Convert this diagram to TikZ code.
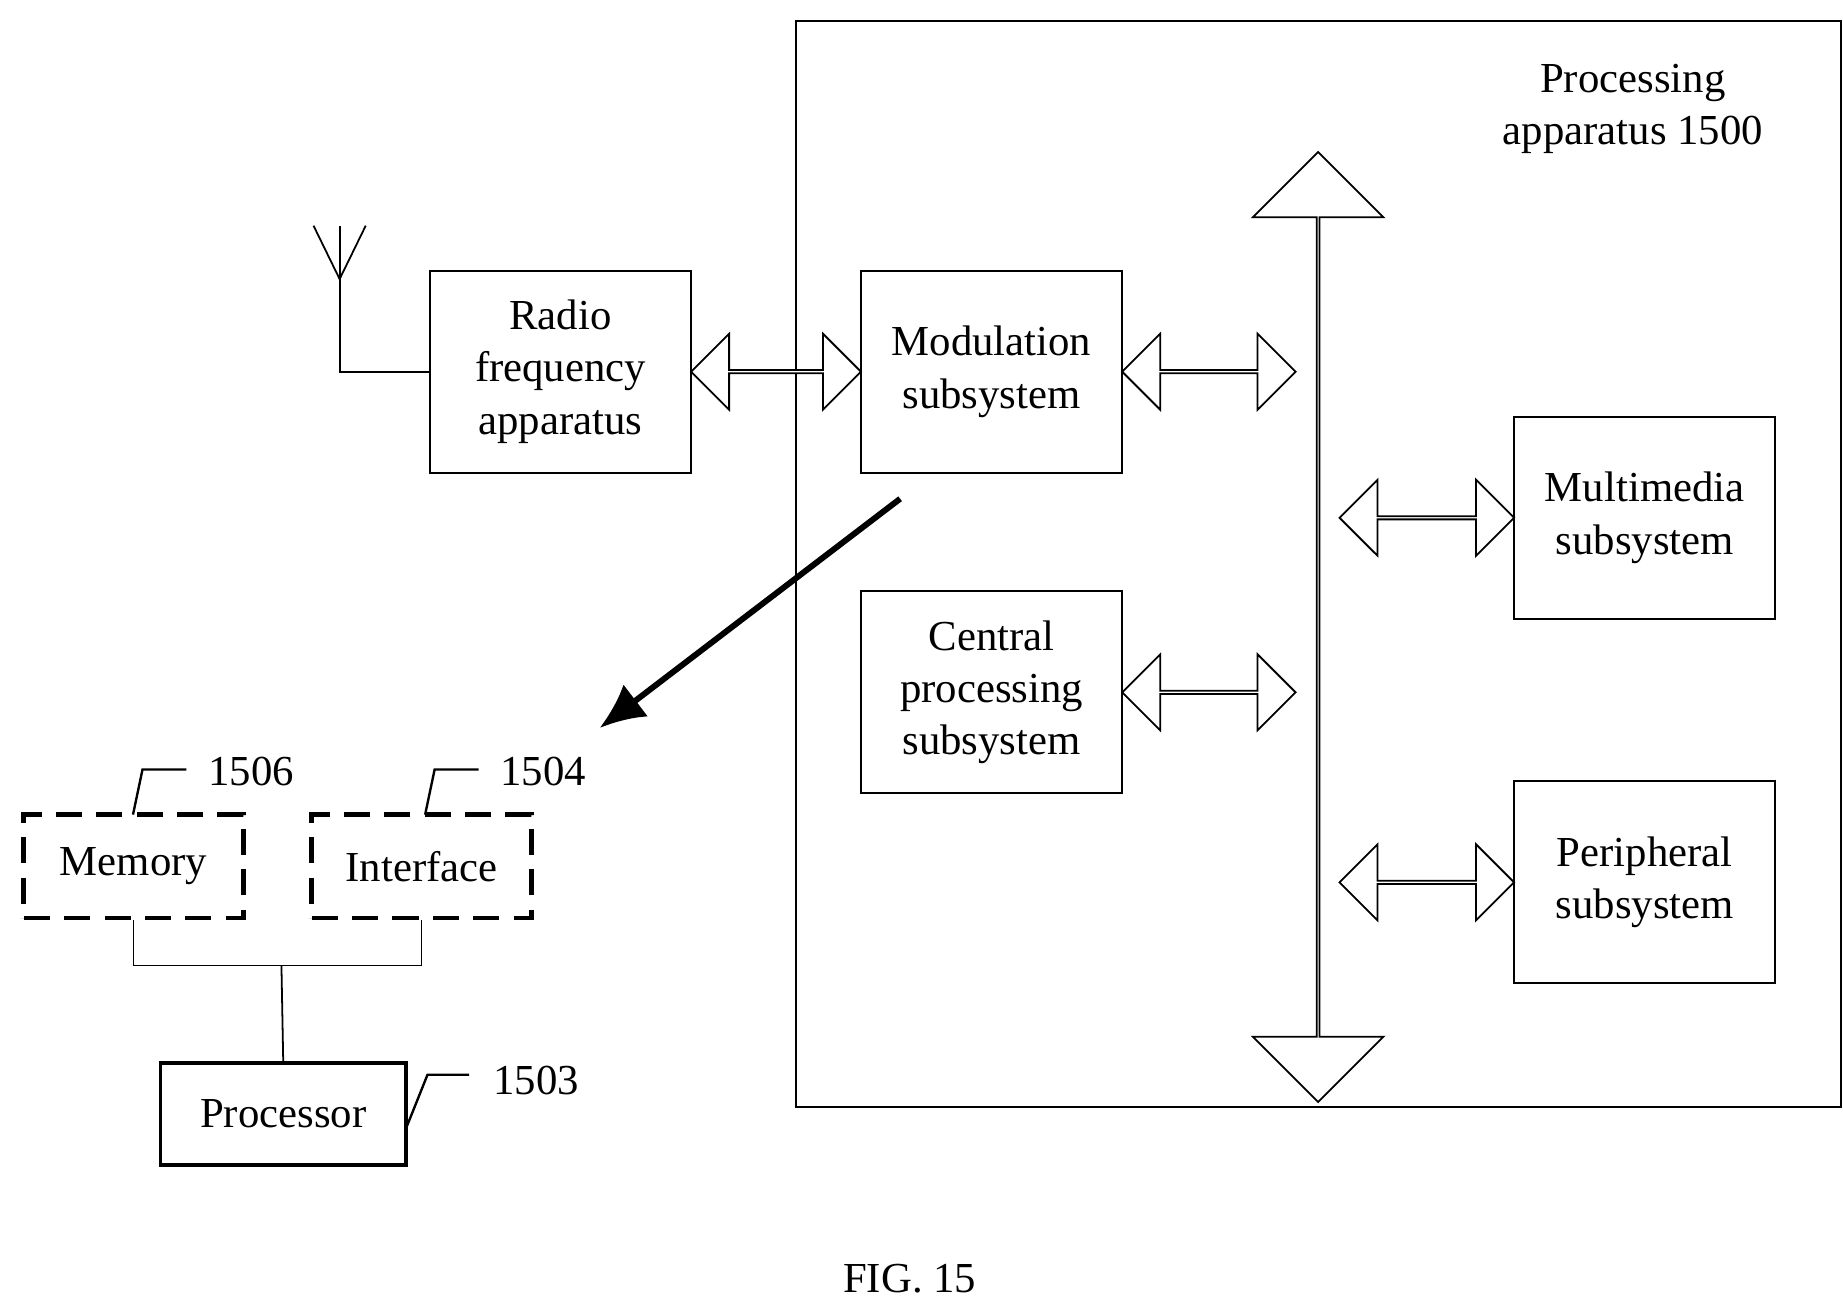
\documentclass[tikz,border=0pt]{standalone}
\usepackage{fontspec}
\setmainfont{Liberation Serif}
\usetikzlibrary{shapes.arrows,calc,arrows.meta}
\tikzset{
    x={1pt},
    y={-1pt},
    block/.style={
        draw, line width={1.5pt},
        minimum width={220}, minimum height={170},
        align=center, inner sep=0pt,
    },
    optional block/.style={
        draw, line width={4pt}, dash pattern=on 22pt off 12pt,
        minimum width={185}, minimum height={87},
        inner sep=0pt,
    },
    bus link/.style={
        draw, line width={1.5pt}, double arrow, fill=white,
        double arrow head extend={17}, double arrow tip angle=90,
        minimum width={64}, inner sep=0pt,
    },
    leader/.style={line width={2pt}},
    wire/.style={line width={1.5pt}},
}
\begin{document}
\begin{tikzpicture}[font=\fontsize{36}{44}\selectfont]
\useasboundingbox (0,0) rectangle (1552,1101);
% frame
\draw[line width={1.5pt}] (670,18) rectangle (1550,932);
\node[align=center] (title) at (1375,92) {Processing\\apparatus 1500};
% blocks
\node[block] (rf) at (472,313) {Radio\\frequency\\apparatus};
\node[block] (mod) at (835,313) {Modulation\\subsystem};
\node[block] (cpu) at (835,583) {Central\\processing\\subsystem};
\node[block] (mm) at (1385,436) {Multimedia\\subsystem};
\node[block] (per) at (1385,743) {Peripheral\\subsystem};
% bus
\node[bus link, rotate=90, minimum height={800}, minimum width={110},
      double arrow head extend={37}] (bus) at (1110,528) {};
% links
\node[bus link, minimum height={143}] (l1) at (653.5,313) {};
\node[bus link, minimum height={146}] (l2) at (1018,313) {};
\node[bus link, minimum height={146}] (l3) at (1018,583) {};
\node[bus link, minimum height={147}] (l4) at (1201.5,436) {};
\node[bus link, minimum height={147}] (l5) at (1201.5,743) {};
% antenna
\coordinate (ant) at (286,235);
\draw[wire] (rf.west) -| (ant) -- (286,190);
\draw[wire] (264,190) -- (ant) -- (308,190);
% zoom arrow
\coordinate (zs) at (758,420);
\coordinate (ze) at (505,613);
\draw[line width={5pt}, -{Latex[length=38pt,width=34pt]}] (zs) -- (ze);
% detail
\node[optional block] (mem) at (112.5,729.5) {Memory};
\node[optional block] (ifc) at (355,729.5) {Interface};
\node[draw, line width={3pt}, minimum width={207}, minimum height={86}, inner sep=0pt]
    (proc) at (238.5,938) {Processor};
\coordinate (bj) at (237,813);
\draw[wire] (mem.south) |- (bj) -| (ifc.south);
\draw[wire] (bj) -- (proc.north);
% reference numerals
\node[anchor=west] (n1506) at (172,650) {1506};
\node[anchor=west] (n1504) at (418,650) {1504};
\node[anchor=west] (n1503) at (412,910) {1503};
\draw[leader] (112,686) -- (120,648) -- (157,648);
\draw[leader] (358,686) -- (366,648) -- (403,648);
\draw[leader] (342,950) -- (360,905) -- (395,905);
\node (fig) at (766,1077) {FIG. 15};
\end{tikzpicture}
\end{document}
